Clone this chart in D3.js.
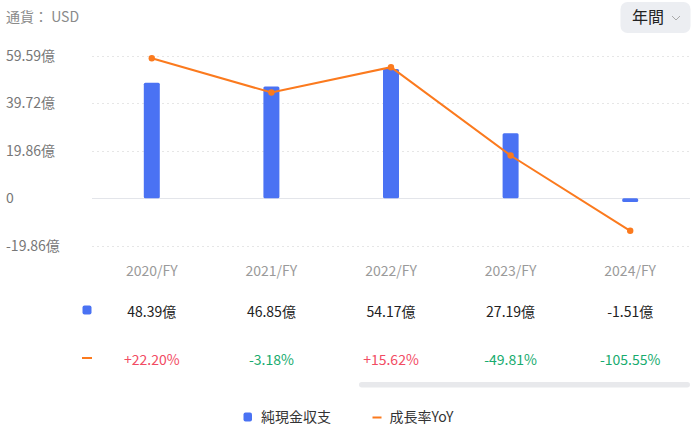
<!DOCTYPE html>
<html><head><meta charset="utf-8">
<script src="https://cdn.jsdelivr.net/npm/d3@7"></script>
<style>
html,body{margin:0;padding:0;background:#fff;}
svg{display:block;font-family:"Noto Sans CJK JP","Noto Sans",sans-serif;}
</style></head>
<body>
<svg id="c" width="694" height="433"></svg>
<script>
const categories = ["2020/FY","2021/FY","2022/FY","2023/FY","2024/FY"];
const netCash = [48.39, 46.85, 54.17, 27.19, -1.51];
const netCashLabels = ["48.39億","46.85億","54.17億","27.19億","-1.51億"];
const yoy = [22.20, -3.18, 15.62, -49.81, -105.55];
const yoyLabels = ["+22.20%","-3.18%","+15.62%","-49.81%","-105.55%"];
const yTicks = [59.59, 39.72, 19.86, 0, -19.86];
const yTickLabels = ["59.59億","39.72億","19.86億","0","-19.86億"];
const seriesNames = ["純現金収支","成長率YoY"];

const BLUE = "#4a72f3", ORANGE = "#fb7a1e", RED = "#f24b63", GREEN = "#17ab6e";
const svg = d3.select("#c");

const x = d3.scaleBand().domain(categories).range([92, 690]);
const y = d3.scaleLinear().domain([-19.86, 59.59]).range([245.7, 56]);
const y2 = d3.scaleLinear().domain([-116.6, 23.9]).range([245.7, 56]);
const cx = c => x(c) + x.bandwidth() / 2;

// header
svg.append("text").attr("x", 6).attr("y", 17).attr("dy", "0.35em")
  .attr("font-size", 14).attr("fill", "#8a8a8a").text("通貨： USD");
svg.append("rect").attr("x", 620.5).attr("y", 2).attr("width", 70).attr("height", 31)
  .attr("rx", 7).attr("fill", "#eceef2");
svg.append("text").attr("x", 632).attr("y", 17.5).attr("dy", "0.35em")
  .attr("font-size", 16).attr("fill", "#222").text("年間");
svg.append("path").attr("d", "M672,16 L676,20 L680,16").attr("fill", "none")
  .attr("stroke", "#aaa").attr("stroke-width", 1);

// grid
const grid = svg.append("g");
yTicks.forEach(t => {
  grid.append("line").attr("x1", 92).attr("x2", 690)
    .attr("y1", Math.round(y(t)) + 0.5).attr("y2", Math.round(y(t)) + 0.5)
    .attr("stroke", t === 0 ? "#e3e5ea" : "#e6e6e6")
    .attr("stroke-dasharray", t === 0 ? null : "2,3");
});
// y labels
svg.append("g").selectAll("text").data(yTicks).join("text")
  .attr("x", 6).attr("y", d => y(d)).attr("dy", "0.35em")
  .attr("font-size", 14).attr("fill", "#777")
  .text((d, i) => yTickLabels[i]);

// bars
svg.append("g").selectAll("rect").data(netCash).join("rect")
  .attr("x", (d, i) => cx(categories[i]) - 8)
  .attr("width", 16)
  .attr("y", d => Math.min(y(d), y(0)))
  .attr("height", d => Math.abs(y(d) - y(0)))
  .attr("rx", 1.5)
  .attr("fill", BLUE);

// line
const line = d3.line().x((d, i) => cx(categories[i])).y(d => y2(d));
svg.append("path").datum(yoy).attr("d", line).attr("fill", "none")
  .attr("stroke", ORANGE).attr("stroke-width", 2);
svg.append("g").selectAll("circle").data(yoy).join("circle")
  .attr("cx", (d, i) => cx(categories[i])).attr("cy", d => y2(d))
  .attr("r", 3.2).attr("fill", ORANGE);

// x labels
svg.append("g").selectAll("text").data(categories).join("text")
  .attr("x", d => cx(d)).attr("y", 271).attr("dy", "0.35em")
  .attr("text-anchor", "middle").attr("font-size", 14).attr("fill", "#9a9a9a")
  .text(d => d);

// table rows
svg.append("rect").attr("x", 82.5).attr("y", 305.5).attr("width", 9).attr("height", 9)
  .attr("rx", 2).attr("fill", BLUE);
svg.append("g").selectAll("text").data(netCashLabels).join("text")
  .attr("x", (d, i) => cx(categories[i])).attr("y", 312.5).attr("dy", "0.35em")
  .attr("text-anchor", "middle").attr("font-size", 14).attr("fill", "#222")
  .text(d => d);
svg.append("rect").attr("x", 82).attr("y", 357).attr("width", 10).attr("height", 2)
  .attr("fill", ORANGE);
svg.append("g").selectAll("text").data(yoyLabels).join("text")
  .attr("x", (d, i) => cx(categories[i])).attr("y", 360.5).attr("dy", "0.35em")
  .attr("text-anchor", "middle").attr("font-size", 14)
  .attr("fill", (d, i) => yoy[i] >= 0 ? RED : GREEN)
  .text(d => d);

// scrollbar
svg.append("rect").attr("x", 359).attr("y", 382).attr("width", 331).attr("height", 5.5)
  .attr("rx", 2.75).attr("fill", "#e8e9ec");

// legend
svg.append("rect").attr("x", 243.5).attr("y", 412.5).attr("width", 8.5).attr("height", 9)
  .attr("rx", 2).attr("fill", BLUE);
svg.append("text").attr("x", 261).attr("y", 417).attr("dy", "0.35em")
  .attr("font-size", 14).attr("fill", "#333").text(seriesNames[0]);
svg.append("rect").attr("x", 372.5).attr("y", 416.5).attr("width", 9).attr("height", 2)
  .attr("fill", ORANGE);
svg.append("text").attr("x", 389.5).attr("y", 417).attr("dy", "0.35em")
  .attr("font-size", 14).attr("fill", "#333").text(seriesNames[1]);
</script>
</body></html>
